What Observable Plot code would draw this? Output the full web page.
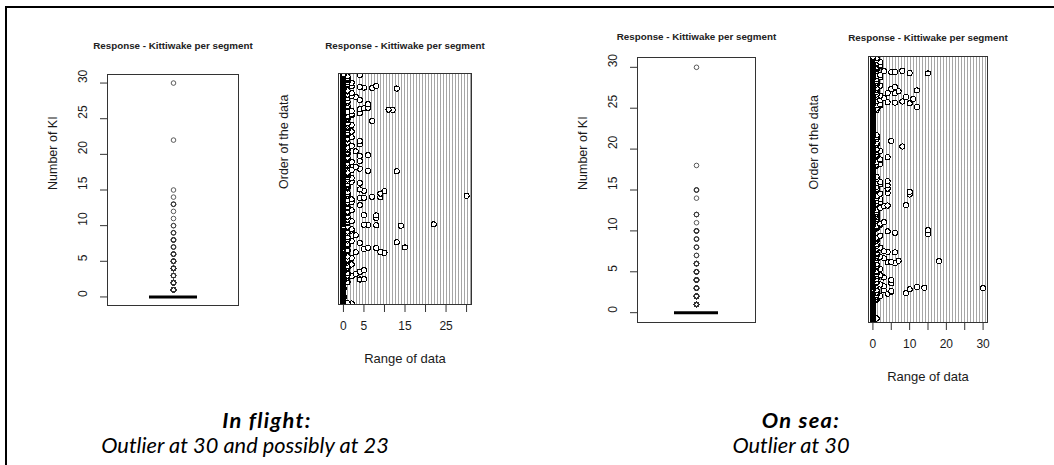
<!DOCTYPE html>
<html>
<head>
<meta charset="utf-8">
<script src="https://cdn.jsdelivr.net/npm/d3@7"></script>
<script src="https://cdn.jsdelivr.net/npm/@observablehq/plot@0.6"></script>
<style>
  html, body { margin: 0; padding: 0; background: #fff; }
  #page { position: relative; width: 1054px; height: 465px; overflow: hidden; background: #fff; }
  .panel { position: absolute; top: 0; }
  .line { position: absolute; background: #000; }
  .cap { position: absolute; font-family: Lato, "Open Sans", sans-serif; font-style: italic; font-size: 21.8px;
         color: #000; white-space: nowrap; transform: translate(-50%, -50%); line-height: 1; }
  .cap.head { font-weight: bold; letter-spacing: 1.3px; }
</style>
</head>
<body>
<div id="page">
  <div class="line" style="left:5px; top:6px; width:2px; height:459px"></div>
  <div class="line" style="left:5px; top:6px; width:1049px; height:2px"></div>
  <div id="boxFlight" class="panel" style="left:0px"></div>
  <div id="dotFlight" class="panel" style="left:275px"></div>
  <div id="boxSea" class="panel" style="left:530px"></div>
  <div id="dotSea" class="panel" style="left:800px"></div>
  <div class="cap head" style="left:267px; top:420px">In flight:</div>
  <div class="cap" style="left:245px; top:445px">Outlier at 30 and possibly at 23</div>
  <div class="cap head" style="left:801px; top:420px">On sea:</div>
  <div class="cap" style="left:791px; top:445px">Outlier at 30</div>
</div>
<script>
const panelTitle = "Response - Kittiwake per segment";
const countLabel = "Number of KI";
const orderLabel = "Order of the data";
const rangeLabel = "Range of data";

// Kittiwakes counted per segment, in survey order (30 segments per line).
const inFlight = [
  0,0,2,1,0,0,0,0,0,0, 0,0,0,0,0,0,0,0,0,0, 0,0,0,0,0,0,0,0,0,0,
  0,0,0,0,0,0,0,0,0,0, 0,0,0,0,0,0,0,0,0,0, 0,0,0,0,0,0,0,0,0,0,
  0,0,0,0,0,0,0,0,0,1, 0,0,0,0,0,0,0,4,5,0, 0,0,0,1,0,0,0,2,0,1,
  0,0,0,0,3,0,0,1,0,0, 0,4,0,0,0,0,5,0,0,0, 0,1,0,0,1,0,0,0,0,1,
  0,0,0,0,2,0,0,0,0,0, 1,0,0,0,1,0,0,0,0,1, 0,0,0,0,2,0,0,0,0,1,
  0,0,0,0,0,0,0,0,0,0, 10,0,3,9,0,0,1,0,0,1, 0,0,5,0,0,8,6,15,0,0,
  0,1,0,0,1,0,0,0,1,0, 0,4,0,13,0,0,0,2,0,1, 0,0,0,0,1,0,0,0,0,1,
  0,0,0,0,0,3,0,0,0,0, 0,1,0,0,0,0,0,1,0,0, 2,0,0,0,2,0,0,0,0,1,
  0,0,1,0,0,14,8,6,5,22, 0,0,0,0,1,0,0,1,0,2, 0,0,0,0,1,0,0,0,0,8,
  0,0,0,1,0,0,0,8,5,0, 0,0,0,0,1,0,0,0,0,1, 0,0,0,2,0,0,0,0,0,1,
  0,0,0,0,1,0,0,0,0,4, 0,0,1,0,0,0,0,1,0,2, 0,0,0,0,1,0,0,2,0,0,
  0,4,5,0,9,7,0,0,30,1, 0,0,0,1,0,9,0,0,0,1, 0,0,0,10,5,0,0,0,4,0,
  0,1,0,0,1,0,0,1,0,0, 0,1,0,0,0,1,0,0,4,0, 0,0,2,0,0,1,0,0,0,1,
  0,0,0,0,2,0,0,1,0,0, 0,0,0,0,1,0,0,0,1,0, 0,1,0,0,0,13,6,0,0,2,
  0,0,0,4,0,0,0,0,3,0, 0,1,0,0,1,0,0,0,0,1, 0,0,0,0,2,0,0,4,0,0,
  1,0,0,0,1,0,0,0,1,0, 0,0,4,0,0,6,0,0,0,1, 0,0,0,1,0,0,0,3,0,0,
  1,0,0,0,1,0,0,0,0,1, 0,0,0,0,2,0,0,0,0,4, 0,0,0,0,1,0,0,0,0,4,
  0,0,0,0,1,0,0,1,0,0, 0,2,0,0,0,0,0,1,0,0, 1,0,0,0,1,0,0,0,0,2,
  0,0,0,0,1,0,0,0,0,1, 0,0,0,0,1,0,0,0,0,2, 0,1,0,0,0,1,0,0,0,0,
  0,0,7,0,0,0,1,0,0,1, 0,0,0,0,1,0,0,1,0,0, 2,0,0,2,0,0,4,0,0,1,
  0,0,0,2,0,0,12,11,4,0, 0,5,0,6,0,0,1,0,0,1, 0,0,0,0,6,0,0,0,0,1,
  0,0,0,1,0,0,0,4,0,0, 0,0,0,0,1,0,0,3,0,0, 2,0,0,0,1,0,0,0,0,2,
  0,0,0,0,1,0,0,1,0,0, 0,0,0,13,0,7,5,0,4,0, 2,8,0,0,1,0,0,1,0,0,
  0,2,0,0,1,0,0,0,0,1, 0,0,1,0,0,1,0,0,0,0, 0,1,0,0,0,4,0,0,0,0
];

const onSea = [
  0,0,0,0,0,0,0,0,0,0, 1,0,0,0,0,0,0,0,0,0, 0,0,0,0,0,0,0,0,0,0,
  0,0,0,0,0,0,0,0,0,0, 0,0,0,0,0,0,0,0,0,0, 0,0,0,0,0,0,0,0,0,0,
  0,1,0,0,1,0,0,0,0,1, 0,2,0,0,1,0,0,4,9,0, 1,0,5,0,5,0,3,1,0,10,
  0,0,30,14,0,12,0,3,0,1, 0,0,2,0,0,5,0,1,0,1, 0,0,0,0,5,0,0,1,0,0,
  0,3,0,0,1,0,0,2,0,0, 0,1,0,0,0,1,0,0,0,1, 0,0,0,0,2,0,0,0,0,1,
  0,0,1,0,0,0,0,1,0,0, 6,0,4,5,0,18,7,0,0,1, 0,0,0,3,0,1,0,2,0,1,
  0,0,0,0,1,0,0,1,0,6, 4,0,3,0,0,0,1,0,0,1, 0,0,2,0,0,0,0,1,0,0,
  0,0,1,0,0,0,0,0,0,0, 0,1,0,0,0,1,0,0,0,1, 0,0,0,0,2,0,0,0,15,0,
  0,0,6,0,0,0,4,0,0,15, 0,0,0,0,1,0,0,1,0,0, 0,1,0,0,2,0,0,2,0,0,
  0,3,0,0,0,1,0,0,0,1, 0,0,0,0,1,0,0,0,0,1, 0,0,0,0,1,0,0,0,0,1,
  0,0,0,0,1,0,0,0,0,2, 0,0,0,0,3,0,4,9,0,0, 0,1,0,0,0,2,0,0,0,1,
  0,0,0,0,2,0,0,1,0,0, 0,1,0,0,0,0,10,0,2,0, 4,0,0,10,0,0,0,1,0,0,
  1,0,4,0,0,0,0,1,0,0, 0,4,0,0,2,0,0,1,0,0, 2,0,4,0,0,0,0,1,0,0,
  0,0,0,0,1,0,0,0,0,0, 0,0,0,0,0,0,0,0,0,0, 0,0,0,0,0,0,0,0,0,0,
  0,0,0,0,1,0,0,1,0,2, 0,0,0,0,1,0,0,0,0,2, 0,2,0,0,0,0,0,4,0,0,
  1,0,0,0,1,0,0,0,0,0, 0,1,0,0,2,0,0,1,0,1, 0,0,0,0,0,0,8,0,0,0,
  0,1,0,0,0,0,1,0,0,0, 0,5,0,0,0,0,0,1,0,0, 0,0,1,0,0,0,0,1,0,0,
  0,0,0,0,0,0,0,0,0,0, 0,0,0,0,0,0,0,0,0,0, 0,0,0,0,0,0,0,0,0,0,
  0,0,0,0,0,0,0,0,0,0, 0,0,0,0,0,0,0,0,0,0, 0,0,0,0,0,0,0,0,0,0,
  0,0,0,0,1,0,0,0,0,1, 0,0,0,12,0,0,0,2,0,1, 2,0,0,10,0,6,4,0,8,1,
  0,0,2,0,0,11,0,3,0,0, 9,1,0,0,2,0,0,1,0,0, 6,4,0,0,1,0,7,0,12,0,
  1,0,5,0,1,0,0,6,0,0, 0,2,0,0,1,0,0,0,0,1, 0,0,0,0,1,0,0,0,0,1,
  0,0,0,0,2,0,0,1,0,0, 2,0,0,0,15,10,0,5,6,0, 3,8,0,0,0,1,0,0,1,0,
  0,1,0,0,2,0,0,2,0,1, 0,0,0,1,0,2,0,0,0,0, 0,1,0,0,0,1,0,0,0,0
];

const countTicks = [0, 5, 10, 15, 20, 25, 30];
const flightRangeLabels = [0, 5, 15, 25];
const seaRangeLabels = [0, 10, 20, 30];

const font = "'Liberation Sans', Arial, sans-serif";
const ink = "#1a1a1a";

// data range widened by 4% on each side, as R does
function padded(values) {
  const [lo, hi] = d3.extent(values);
  const p = (hi - lo) * 0.04;
  return [lo - p, hi + p];
}

function boxStats(values) {
  const s = d3.sort(values);
  const q1 = d3.quantileSorted(s, 0.25);
  const med = d3.quantileSorted(s, 0.5);
  const q3 = d3.quantileSorted(s, 0.75);
  const iqr = q3 - q1;
  const lo = d3.min(s.filter(v => v >= q1 - 1.5 * iqr));
  const hi = d3.max(s.filter(v => v <= q3 + 1.5 * iqr));
  return {group: countLabel, q1, med, q3, lo, hi, outliers: s.filter(v => v < lo || v > hi)};
}

function boxPanel(values, m) {
  const st = boxStats(values);
  const out = st.outliers.map(v => ({group: st.group, v}));
  return Plot.plot({
    width: m.width, height: 400,
    marginLeft: m.left, marginRight: m.right, marginTop: m.top, marginBottom: m.bottom,
    style: {background: "transparent", fontFamily: font, color: ink, overflow: "visible"},
    x: {type: "band", domain: [st.group], paddingInner: 0, paddingOuter: 0.84, axis: null},
    y: {domain: padded(values), axis: null},
    marks: [
      Plot.ruleX([st], {x: "group", y1: "lo", y2: "q1", stroke: ink, strokeDasharray: "4,3"}),
      Plot.ruleX([st], {x: "group", y1: "q3", y2: "hi", stroke: ink, strokeDasharray: "4,3"}),
      Plot.barY([st], {x: "group", y1: "q1", y2: "q3", fill: "none", stroke: ink}),
      Plot.tickY([st], {x: "group", y: "med", stroke: "#000", strokeWidth: 3}),
      Plot.dot(out, {x: "group", y: "v", r: 2.3, fill: "none", stroke: "#333", strokeWidth: 0.8}),
      Plot.frame({stroke: "#333"}),
      Plot.axisY(countTicks, {tickSize: 7, tickFormat: () => "", stroke: "#333", label: null}),
      Plot.text(countTicks, {y: d => d, text: d => String(d), frameAnchor: "left", dx: -24, rotate: -90, fontSize: 12, fill: ink}),
      Plot.text([countLabel], {frameAnchor: "left", dx: -55, rotate: -90, fontSize: 12.5, fill: ink}),
      Plot.text([panelTitle], {frameAnchor: "top", dy: m.titleDy, fontSize: 9.8, fontWeight: "bold", fill: "#222"})
    ]
  });
}

function dotPanel(values, labels, m) {
  const rows = values.map((v, i) => ({order: i + 1, v}));
  return Plot.plot({
    width: m.width, height: 400,
    marginLeft: m.left, marginRight: m.right, marginTop: m.top, marginBottom: m.bottom,
    style: {background: "transparent", fontFamily: font, color: ink, overflow: "visible"},
    x: {domain: padded(values)},
    y: {domain: [0, rows.length + 1], axis: null},
    marks: [
      // one dotted guide per segment; stacked, their dots line up into stripes
      Plot.ruleY(rows, {y: "order", stroke: "#a6a6a6", strokeWidth: 1, strokeDasharray: "1,2", clip: true}),
      // open circles with a white background, drawn in survey order like a base-graphics device
      Plot.dot(rows, {x: "v", y: "order", r: 2.6, fill: "white", stroke: "#000", strokeWidth: 1,
                      shapeRendering: "crispEdges", clip: true}),
      Plot.frame({stroke: "#333"}),
      Plot.axisX(countTicks, {tickSize: 8, tickFormat: () => "", stroke: "#333", label: null}),
      Plot.text(labels, {x: d => d, text: d => String(d), frameAnchor: "bottom", dy: 25, fontSize: 12, fill: ink}),
      Plot.text([rangeLabel], {frameAnchor: "bottom", dy: 58, fontSize: 13, fill: ink}),
      Plot.text([orderLabel], {frameAnchor: "left", dx: -55, rotate: -90, fontSize: 12.5, fill: ink}),
      Plot.text([panelTitle], {frameAnchor: "top", dy: m.titleDy, fontSize: 9.8, fontWeight: "bold", fill: "#222"})
    ]
  });
}

document.getElementById("boxFlight").append(
  boxPanel(inFlight, {width: 275, left: 107, right: 37, top: 74, bottom: 95, titleDy: -32}));
document.getElementById("dotFlight").append(
  dotPanel(inFlight, flightRangeLabels, {width: 255, left: 63, right: 59, top: 73, bottom: 96, titleDy: -31}));
document.getElementById("boxSea").append(
  boxPanel(onSea, {width: 270, left: 107, right: 45, top: 57, bottom: 78, titleDy: -24}));
document.getElementById("dotSea").append(
  dotPanel(onSea, seaRangeLabels, {width: 254, left: 68, right: 67, top: 56, bottom: 78, titleDy: -22}));
</script>
</body>
</html>
